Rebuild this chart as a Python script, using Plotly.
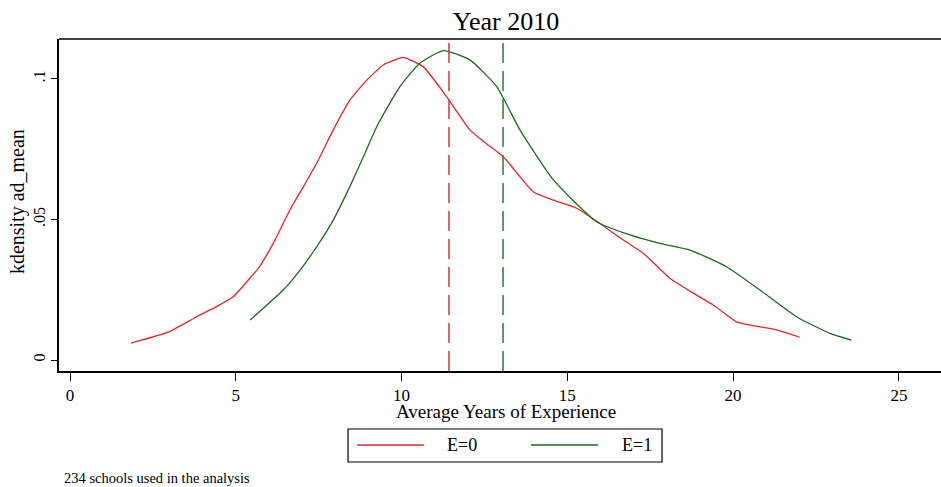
import plotly.graph_objects as go

# ---- data ----
series_names = ["E=0", "E=1"]
red_x = [1.84, 3.0, 3.82, 4.42, 4.92, 5.43, 5.68, 6.13, 6.63, 7.04, 7.44, 7.94, 8.44, 8.95,
         9.45, 9.8, 10.05, 10.65, 11.36, 12.06, 12.5, 13.07, 13.97, 14.58, 15.28, 15.98, 16.69,
         17.29, 18.09, 18.9, 19.4, 20.1, 20.91, 21.31, 22.01]
red_y = [0.0060, 0.0101, 0.0154, 0.0190, 0.0225, 0.0292, 0.0326, 0.0415, 0.0534, 0.0617,
         0.0700, 0.0819, 0.0925, 0.0996, 0.1050, 0.1068, 0.1077, 0.1044, 0.0937, 0.0819, 0.0775,
         0.0723, 0.0599, 0.0569, 0.0540, 0.0486, 0.0427, 0.0380, 0.0291, 0.0231, 0.0196,
         0.0136, 0.0116, 0.0107, 0.0081]
green_x = [5.43, 6.43, 6.94, 7.44, 7.94, 8.44, 8.85, 9.25, 9.95, 10.55, 11.26, 12.06, 12.87,
           13.57, 14.58, 15.88, 16.89, 17.79, 18.7, 19.8, 20.81, 21.91, 22.92, 23.57]
green_y = [0.0142, 0.0249, 0.0320, 0.0403, 0.0498, 0.0617, 0.0723, 0.0830, 0.0973, 0.1056,
           0.1101, 0.1068, 0.0973, 0.0819, 0.0641, 0.0492, 0.0445, 0.0415, 0.0391, 0.0332,
           0.0249, 0.0154, 0.0095, 0.0071]
group_means = [11.43, 13.06]
x_ticks = [0, 5, 10, 15, 20, 25]
y_ticks = [0, 0.05, 0.1]
y_tick_labels = ["0", ".05", ".1"]
title_text = "Year 2010"
x_title = "Average Years of Experience"
y_title = "kdensity ad_mean"
note_text = "234 schools used in the analysis"

FONT = "Liberation Serif"
RED = "#e3262b"
GREEN = "#1a6a1a"
RED_D = "#d04545"
GREEN_D = "#3f7f3f"

fig = go.Figure()
fig.add_trace(go.Scatter(x=red_x, y=red_y, mode="lines", name=series_names[0],
                         line=dict(color=RED, width=1.3, shape="spline", smoothing=0.5),
                         showlegend=False))
fig.add_trace(go.Scatter(x=green_x, y=green_y, mode="lines", name=series_names[1],
                         line=dict(color=GREEN, width=1.3, shape="spline", smoothing=0.5),
                         showlegend=False))

for m, c in zip(group_means, [RED_D, GREEN_D]):
    fig.add_shape(type="line", xref="x", yref="paper", x0=m, x1=m, y0=0, y1=0.988,
                  line=dict(color=c, width=1.6, dash="20px,8px"))

# top border of plot region
fig.add_shape(type="line", xref="paper", yref="paper", x0=0, x1=1, y0=1, y1=1,
              line=dict(color="black", width=1.5))

# custom legend
fig.add_shape(type="rect", xref="paper", yref="paper", x0=0.3277, x1=0.6837,
              y0=-0.2741, y1=-0.1747, line=dict(color="black", width=1.2))
for (x0, x1, tx), c, nm in zip([(0.3379, 0.4138, 0.4376), (0.5351, 0.6111, 0.6361)],
                               [RED, GREEN], series_names):
    fig.add_shape(type="line", xref="paper", yref="paper", x0=x0, x1=x1,
                  y0=-0.2229, y1=-0.2229, line=dict(color=c, width=1.3))
    fig.add_annotation(xref="paper", yref="paper", x=tx, y=-0.2229, text=nm,
                       showarrow=False, xanchor="left", yanchor="middle",
                       font=dict(family=FONT, size=18, color="black"))

fig.add_annotation(xref="paper", yref="paper", x=0.507, y=-0.122, text=x_title,
                   showarrow=False, xanchor="center", yanchor="middle",
                   font=dict(family=FONT, size=19, color="black"))
fig.add_annotation(xref="paper", yref="paper", x=-0.0475, y=0.509, text=y_title,
                   showarrow=False, xanchor="center", yanchor="middle", textangle=-90,
                   font=dict(family=FONT, size=20, color="black"))
fig.add_annotation(xref="paper", yref="paper", x=0.0034, y=-0.3223, text=note_text,
                   showarrow=False, xanchor="left", yanchor="middle",
                   font=dict(family=FONT, size=14.5, color="black"))

fig.update_layout(
    width=941, height=487,
    margin=dict(l=59, r=0, t=39, b=116),
    paper_bgcolor="white", plot_bgcolor="white",
    title=dict(text=title_text, x=506 / 941, xanchor="center", y=1 - 21 / 487,
               yanchor="middle", font=dict(family=FONT, size=26, color="black")),
    font=dict(family=FONT, color="black"),
    xaxis=dict(range=[-0.332, 26.27], tickvals=x_ticks, showgrid=False, zeroline=False,
               showline=True, linecolor="black", linewidth=1.5, ticks="outside",
               ticklen=8, tickwidth=1.2, tickcolor="black",
               tickfont=dict(family=FONT, size=17), fixedrange=True),
    yaxis=dict(range=[-0.00391, 0.11423], tickvals=y_ticks, ticktext=y_tick_labels,
               showgrid=False, zeroline=False, showline=True, linecolor="black",
               linewidth=1.5, ticks="outside", ticklen=6, tickwidth=1.2,
               tickcolor="black", tickangle=-90, tickfont=dict(family=FONT, size=16),
               fixedrange=True),
)

fig.write_html("out.html", config={"displayModeBar": False},
               post_script="document.body.style.margin='0';document.body.style.overflow='hidden';")
